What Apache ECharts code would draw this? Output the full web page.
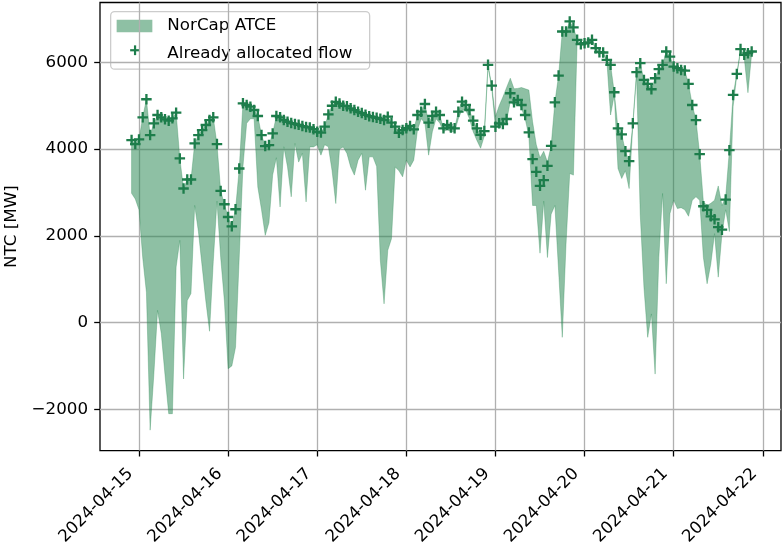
<!DOCTYPE html>
<html>
<head>
<meta charset="utf-8">
<script src="https://cdn.jsdelivr.net/npm/echarts@6/dist/echarts.min.js"></script>
<style>
  html, body { margin: 0; padding: 0; background: #fff; }
  #chart { width: 782px; height: 547px; }
</style>
</head>
<body>
<div id="chart"></div>
<script>
// Hourly series, first sample at this local time
const startTime = '2024-04-14T22:00:00';

// Day ticks along the time axis and value ticks along the NTC axis
const dayTicks = ['2024-04-15', '2024-04-16', '2024-04-17', '2024-04-18',
                  '2024-04-19', '2024-04-20', '2024-04-21', '2024-04-22'];
const ntcTicks = [-2000, 0, 2000, 4000, 6000];

// Already allocated flow [MW]
const allocatedFlow = [
  4208, 4115, 4224, 4733, 5149, 4323, 4594, 4786, 4733, 4686, 4655, 4709,
  4840, 3785, 3091, 3299, 3299, 4131, 4323, 4439, 4555, 4670, 4733, 4115,
  3036, 2728, 2435, 2220, 2613, 3553, 5056, 5017, 4978, 4901, 4763, 4323,
  4069, 4092, 4362, 4763, 4733, 4671, 4631, 4600, 4580, 4560, 4530, 4510,
  4500, 4460, 4400, 4380, 4520, 4800, 5000, 5090, 5050, 5000, 4990, 4940,
  4900, 4860, 4830, 4790, 4760, 4740, 4720, 4700, 4670, 4747, 4609, 4516,
  4377, 4439, 4480, 4532, 4455, 4786, 4863, 5040, 4609, 4763, 4863, 4786,
  4478, 4555, 4500, 4478, 4863, 5094, 5017, 4901, 4655, 4478, 4330, 4416,
  5942, 5464, 4516, 4594, 4578, 4694, 5288, 5079, 5133, 5017, 4786, 4385,
  3769, 3475, 3152, 3283, 3614, 4076, 5079, 5695, 6712, 6712, 6943, 6805,
  6520, 6420, 6443, 6458, 6520, 6328, 6235, 6227, 6057, 5942, 5310, 4478,
  4339, 3953, 3722, 4594, 5773, 5981, 5595, 5503, 5380, 5634, 5842, 5942,
  6250, 6134, 5903, 5865, 5826, 5810, 5503, 5017, 4670, 3884, 2682, 2600,
  2450, 2380, 2200, 2142, 2836, 3976, 5248, 5734, 6305, 6173, 6212, 6250
];

// NorCap ATCE band, upper edge [MW]
const atceUpper = [
  4208, 4115, 4224, 4733, 5149, 4323, 4594, 4786, 4733, 4686, 4655, 4709,
  4840, 3785, 3091, 3299, 3299, 4131, 4323, 4439, 4555, 4670, 4733, 4115,
  3036, 2728, 2435, 2220, 2613, 3553, 5056, 5017, 4978, 4901, 4763, 4323,
  4069, 4092, 4362, 4763, 4733, 4671, 4631, 4600, 4580, 4560, 4530, 4510,
  4500, 4460, 4400, 4380, 4520, 4800, 5000, 5090, 5050, 5000, 4990, 4940,
  4900, 4860, 4830, 4790, 4760, 4740, 4720, 4700, 4670, 4747, 4609, 4516,
  4377, 4439, 4480, 4532, 4455, 4786, 4863, 5040, 4609, 4763, 4863, 4786,
  4478, 4555, 4500, 4478, 4863, 5094, 5017, 4901, 4655, 4478, 4330, 4416,
  5942, 5464, 4750, 5000, 5200, 5420, 5634, 5390, 5400, 5420, 5390, 5360,
  4630, 4100, 3800, 3950, 3700, 4076, 5079, 5695, 6712, 6712, 6943, 6805,
  6520, 6420, 6443, 6458, 6520, 6328, 6235, 6227, 6057, 5942, 5310, 4478,
  4339, 3953, 3722, 4594, 5773, 5981, 5595, 5503, 5380, 5634, 5842, 5942,
  6250, 6134, 5903, 5865, 5826, 5810, 5503, 5017, 4670, 3884, 2780, 2700,
  2750, 2820, 3150, 2700, 2900, 3976, 5248, 5734, 6305, 6173, 6212, 6250
];

// NorCap ATCE band, lower edge [MW]
const atceLower = [
  2980, 2850, 2600, 1500, 700, -2480, -1200, 280, -250, -1200, -2100, -2100,
  1279, 1896, -1300, 509, 670, 2700, 2100, 1300, 500, -200, 1400, 2800,
  1500, 500, -1064, -1000, -570, 1510, 3600, 4594, 4700, 4700, 3128, 2600,
  2011, 2300, 3400, 3800, 2666, 4053, 3590, 2900, 4130, 3700, 3900, 2782,
  4050, 4050, 4100, 3860, 4100, 4053, 3500, 2744, 4000, 4050, 3900, 3590,
  3400, 3745, 3900, 3052, 3821, 3821, 3600, 1433, 432, 1665, 1935, 3590,
  3500, 3360, 3745, 3590, 3745, 4440, 4700, 4600, 3860, 4400, 4700, 4600,
  4400, 4450, 4400, 4400, 4700, 4900, 4900, 4700, 4400, 4200, 4020, 4300,
  5900, 5400, 4500, 4550, 4550, 4650, 5100, 5000, 5050, 4950, 4700, 4300,
  2700, 2700, 1600, 2800, 1500, 2500, 2700, 1200, -340, 1800, 3438, 3400,
  6480, 6380, 6400, 6420, 6480, 6300, 6200, 6200, 6030, 4786, 5250, 3553,
  3322, 3500, 3090, 4550, 5700, 2474, 800, -340, 200, -1187, 1500, 2976,
  895, 2513, 2820, 2628, 2650, 2600, 2451, 2820, 2900, 2820, 1500, 895,
  1357, 2050, 1048, 2050, 2600, 2100, 4978, 5700, 6250, 6100, 5300, 6200
];

const HOUR = 3600 * 1000;
const t0 = new Date(startTime).getTime();
const times = allocatedFlow.map((_, i) => t0 + i * HOUR);
const dayTickTimes = dayTicks.map(d => new Date(d + 'T00:00:00').getTime());

const FONT = 'DejaVu Sans';
const FS = 16.7;
const FILL = 'rgba(38,135,80,0.52)';
const MARK = '#1d7d4b';
const GRID_LINE = '#b0b0b0';

const bandData = times.map((t, i) => [t, atceLower[i], atceUpper[i]]);
const flowData = times.map((t, i) => [t, allocatedFlow[i]]);

const PLUS = 'path://M3.9,0 L6.1,0 L6.1,3.9 L10,3.9 L10,6.1 L6.1,6.1 L6.1,10 L3.9,10 L3.9,6.1 L0,6.1 L0,3.9 L3.9,3.9 Z';

const pad2 = n => String(n).padStart(2, '0');
const dayLabel = v => {
  const d = new Date(v);
  return d.getFullYear() + '-' + pad2(d.getMonth() + 1) + '-' + pad2(d.getDate());
};

// The ATCE band as a single polygon: upper edge forward, lower edge back
function renderBand(params, api) {
  if (params.dataIndex !== 0) return null;
  const pts = [];
  for (let i = 0; i < times.length; i++) pts.push(api.coord([times[i], atceUpper[i]]));
  for (let i = times.length - 1; i >= 0; i--) pts.push(api.coord([times[i], atceLower[i]]));
  return {
    type: 'polygon',
    shape: { points: pts },
    style: { fill: FILL, stroke: FILL, lineWidth: 0.6 }
  };
}

const chart = echarts.init(document.getElementById('chart'), null, { renderer: 'canvas' });

chart.setOption({
  animation: false,
  backgroundColor: '#fff',
  textStyle: { fontFamily: FONT },
  grid: {
    left: 100, right: 1, top: 2.5, bottom: 96.3,
    containLabel: false, outerBoundsMode: 'none',
    show: true, borderColor: '#000', borderWidth: 1.3, backgroundColor: 'transparent'
  },
  xAxis: {
    type: 'value',
    min: new Date('2024-04-14T13:30:00').getTime(),
    max: new Date('2024-04-22T04:54:00').getTime(),
    axisLine: { show: false, onZero: false },
    axisTick: { show: true, length: 5.8, lineStyle: { color: '#000', width: 1.3 },
                customValues: dayTickTimes },
    axisLabel: {
      customValues: dayTickTimes,
      rotate: 45, margin: 12, padding: [0, 12, 0, 0],
      fontFamily: FONT, fontSize: FS, color: '#000',
      formatter: dayLabel
    },
    splitLine: { show: true, lineStyle: { color: GRID_LINE, width: 1.3 } }
  },
  yAxis: {
    type: 'value',
    min: -2954, max: 7380,
    name: 'NTC [MW]',
    nameLocation: 'middle', nameGap: 78,
    nameTextStyle: { fontFamily: FONT, fontSize: FS, color: '#000' },
    axisLine: { show: false, onZero: false },
    axisTick: { show: true, length: 5.8, lineStyle: { color: '#000', width: 1.3 },
                customValues: ntcTicks },
    axisLabel: {
      customValues: ntcTicks,
      margin: 12, fontFamily: FONT, fontSize: FS, color: '#000',
      formatter: v => String(v).replace('-', '\u2212')
    },
    splitLine: { show: true, lineStyle: { color: GRID_LINE, width: 1.3 } }
  },
  series: [
    {
      name: 'NorCap ATCE', type: 'custom', data: bandData,
      encode: { x: 0, y: [1, 2] },
      renderItem: renderBand, silent: true, z: 2
    },
    {
      name: 'Already allocated flow', type: 'scatter', data: flowData,
      symbol: PLUS, symbolSize: 10.5, silent: true,
      itemStyle: { color: MARK, opacity: 1 },
      z: 5
    }
  ],
  graphic: [
    {
      type: 'group', left: 110, top: 11, z: 100,
      children: [
        { type: 'rect', shape: { x: 0, y: 0, width: 259, height: 57.5, r: 4 },
          style: { fill: 'rgba(255,255,255,0.8)', stroke: '#cccccc', lineWidth: 1.3 } },
        { type: 'rect', shape: { x: 6, y: 8, width: 35.7, height: 12.7 },
          style: { fill: FILL } },
        { type: 'text', x: 56.7, y: 14.5,
          style: { text: 'NorCap ATCE', font: FS + 'px "' + FONT + '"', fill: '#000',
                   verticalAlign: 'middle' } },
        { type: 'rect', shape: { x: 19.5, y: 37.5, width: 9.8, height: 2.2 },
          style: { fill: MARK } },
        { type: 'rect', shape: { x: 23.3, y: 33.7, width: 2.2, height: 9.8 },
          style: { fill: MARK } },
        { type: 'text', x: 56.7, y: 42.3,
          style: { text: 'Already allocated flow', font: FS + 'px "' + FONT + '"', fill: '#000',
                   verticalAlign: 'middle' } }
      ]
    }
  ]
});
</script>
</body>
</html>
